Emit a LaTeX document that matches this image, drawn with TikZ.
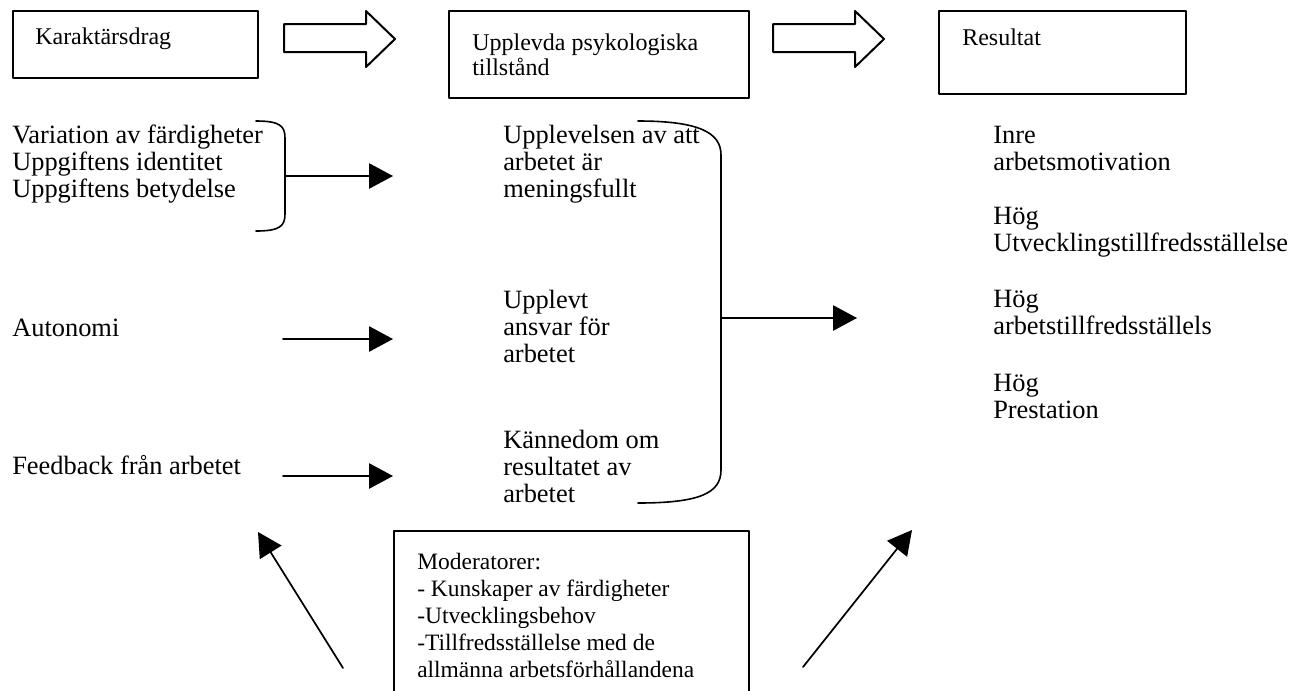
\documentclass[tikz,border=0pt]{standalone}
\usepackage{fontspec}
\setmainfont{Liberation Serif}
\usetikzlibrary{arrows.meta,calc}

\begin{document}
\begin{tikzpicture}[x=0.75pt, y=-0.75pt, line cap=round, line join=round,
    box/.style={draw, line width=1.5pt, inner sep=0pt, anchor=north west},
    boxtext/.style={anchor=north west, inner sep=0pt, align=left, font=\fontsize{18}{18.75}\selectfont},
    item/.style={anchor=north west, inner sep=0pt, align=left, font=\fontsize{19.8}{20.25}\selectfont},
    link/.style={line width=1.3pt, -{Triangle[length=18pt, width=19pt]}},
    brace/.style={line width=1.2pt},
    bigarrow/.style={line width=1.5pt}]
    \useasboundingbox (0,0) rectangle (1306,690);
    \clip (0,0) rectangle (1306,690);
    % header boxes
    \node[box, minimum width=183.75pt, minimum height=50.25pt] (kar) at (12,10) {};
    \node[box, minimum width=225pt, minimum height=65.25pt] (psy) at (448,10) {};
    \node[box, minimum width=185.25pt, minimum height=62.25pt] (res) at (938,10) {};
    \node[boxtext] (kartext) at ($(kar.north west)+(23,18)$) {Karaktärsdrag};
    \node[boxtext] (psytext) at ($(psy.north west)+(24,24)$) {Upplevda psykologiska\\tillstånd};
    \node[boxtext] (restext) at ($(res.north west)+(24,19)$) {Resultat};
    \foreach \x in {284, 773}
        \draw[bigarrow] (\x,24) -- ++(82,0) -- ++(0,-13) -- ++(29,28) -- ++(-29,28) -- ++(0,-15) -- ++(-82,0) -- cycle;
    % columns
    \node[item] (var) at (12,125) {Variation av färdigheter\\Uppgiftens identitet\\Uppgiftens betydelse};
    \node[item] (aut) at (12,319) {Autonomi};
    \node[item] (feed) at (12,455) {Feedback från arbetet};
    \node[item] (mean) at (503,125) {Upplevelsen av att\\arbetet är\\meningsfullt};
    \node[item] (resp) at (503,290) {Upplevt\\ansvar för\\arbetet};
    \node[item] (know) at (503,430) {Kännedom om\\resultatet av\\arbetet};
    \node[item] (inre) at (993,125.5) {Inre\\arbetsmotivation};
    \node[item] (utv) at (993,207) {Hög\\Utvecklingstillfredsställelse};
    \node[item] (arb) at (993,290) {Hög\\arbetstillfredsställels};
    \node[item] (pre) at (993,374) {Hög\\Prestation};
    % braces
    \draw[brace] (256,121) .. controls (280,121) and (285,126) .. (285,138) -- (285,214)
        .. controls (285,226) and (280,231) .. (256,231);
    \draw[brace] (638,121) .. controls (700,121) and (721,133) .. (721,155) -- (721,470)
        .. controls (721,493) and (700,503) .. (638,503);
    % moderators
    \node[box, minimum width=266.25pt, minimum height=160pt] (mod) at (393,530) {};
    \node[anchor=north west, inner sep=0pt, align=left, font=\fontsize{17.6}{20.25}\selectfont] (modtext)
        at ($(mod.north west)+(24,23)$) {Moderatorer:\\- Kunskaper av färdigheter\\-Utvecklingsbehov\\-Tillfredsställelse med de\\allmänna arbetsförhållandena};
    % arrows
    \coordinate (b1) at (285,176);
    \coordinate (t1) at (393,176);
    \coordinate (s2) at (283,339);
    \coordinate (t2) at (393,339);
    \coordinate (s3) at (283,476);
    \coordinate (t3) at (393,476);
    \coordinate (b2) at (721,318);
    \coordinate (t4) at (857,318);
    \coordinate (m1) at (343,668);
    \coordinate (m2) at (258,532);
    \coordinate (m3) at (803,667);
    \coordinate (m4) at (912,530);
    \foreach \a/\b in {b1/t1, s2/t2, s3/t3, b2/t4, m1/m2, m3/m4}
        \draw[link] (\a) -- (\b);
\end{tikzpicture}
\end{document}
